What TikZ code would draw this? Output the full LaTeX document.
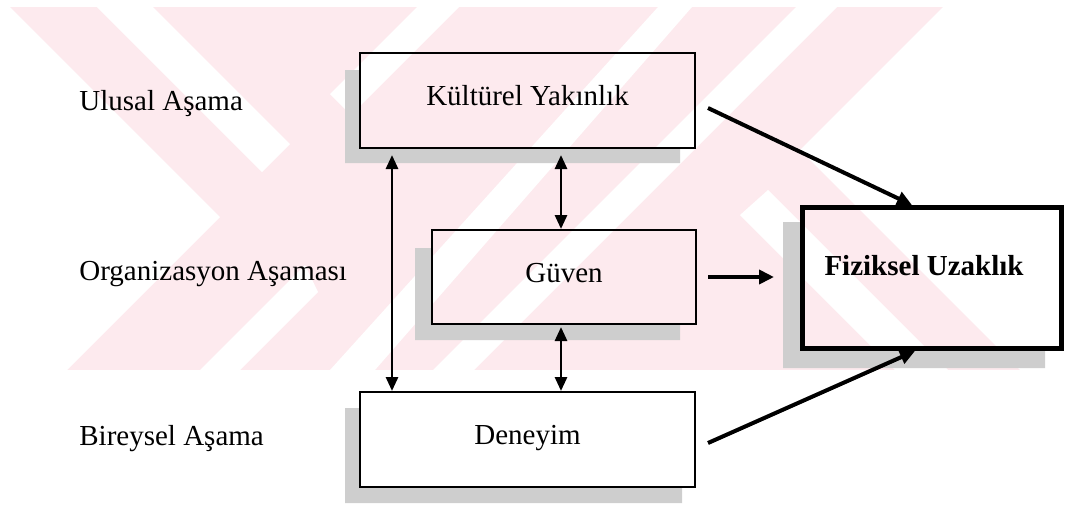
\documentclass[tikz,border=0pt]{standalone}
\usepackage{fontspec}
\setmainfont{Liberation Serif}
\usetikzlibrary{arrows.meta,calc}
\definecolor{wmpink}{RGB}{253,234,238}
\definecolor{stipple}{RGB}{206,206,206}
\begin{document}
\begin{tikzpicture}[x=0.5pt,y=-0.5pt,
  txt/.style={font=\fontsize{14.5}{17}\selectfont},
  box/.style={txt,draw=black,line width=1pt,inner sep=0pt,
    text height=0.7em,text depth=0.2em},
  stage/.style={txt,anchor=base west,inner sep=0pt},
  shade/.style={fill=stipple,draw=none},
  wmgap/.style={fill=white,draw=none},
  dbl/.style={{Triangle[length=7pt,width=6pt]}-{Triangle[length=7pt,width=6pt]},line width=1.4pt},
  link/.style={-{Triangle[length=7.5pt,width=7pt]},line width=2pt}]
\useasboundingbox (0,0) rectangle (1066,505);

% faint chevron watermark behind the chart
\begin{scope}
  \clip (10,7) rectangle (1045,370);
  \fill[wmpink] (10,7) rectangle (1045,370);
  \fill[wmgap] (10,7) -- (220,217) -- (67,370) -- (10,370) -- cycle;
  \fill[wmgap] (97,7) -- (153,7) -- (290,144) -- (262,172) -- cycle;
  \fill[wmgap] (200,370) -- (240,370) -- (318,292) -- (305,265) -- cycle;
  \fill[wmgap] (417,7) -- (459,7) -- (351,115) -- (330,94) -- cycle;
  \fill[wmgap] (330,370) -- (375,370) -- (692,7) -- (658,7) -- cycle;
  \fill[wmgap] (433,370) -- (474,370) -- (837,7) -- (796,7) -- cycle;
  \fill[wmgap] (740,215) -- (768,190) -- (948,370) -- (895,370) -- cycle;
  \fill[wmgap] (943,7) -- (1045,7) -- (1045,370) -- (1020,370) -- (800,150) -- cycle;
\end{scope}

% stippled drop shadows (left and bottom of every box)
\fill[shade] (345,70) -- (360,70) -- (360,148) -- (680,148) -- (680,163) -- (345,163) -- cycle;
\fill[shade] (415,248) -- (432,248) -- (432,324) -- (680,324) -- (680,340) -- (415,340) -- cycle;
\fill[shade] (345,408) -- (360,408) -- (360,487) -- (682,487) -- (682,503) -- (345,503) -- cycle;
\fill[shade] (783,222) -- (801,222) -- (801,349) -- (1045,349) -- (1045,368) -- (783,368) -- cycle;

% stage labels
\node[stage] (ulusal) at (79,110) {Ulusal Aşama};
\node[stage] (orgut) at (79,280) {Organizasyon Aşaması};
\node[stage] (birey) at (79,445) {Bireysel Aşama};

% boxes
\node[box,minimum width=167.5pt,minimum height=47.5pt] (kult) at (527.5,100.5) {Kültürel Yakınlık};
\node[box,minimum width=132pt,minimum height=47pt] (guv) at (564,277) {Güven};
\node[box,minimum width=167.5pt,minimum height=47.5pt] (den) at (527.5,439.5) {Deneyim};
\node[box,line width=2.5pt,minimum width=129.5pt,minimum height=70.5pt] (fiz) at (932,278) {};
\node[txt,inner sep=0pt,text height=0.7em,text depth=0.2em,font=\fontsize{14.5}{17}\selectfont\bfseries]
  (fizlbl) at ($(fiz.center)+(-8,-7.25)$) {Fiziksel Uzaklık};

% two-way links between the stages
\draw[dbl] ([shift={(16.5pt,-3pt)}]kult.south west) -- ([xshift=16.5pt]den.north west);
\draw[dbl] ([xshift=-1.5pt,yshift=-3pt]guv.north |- kult.south) -- ([xshift=-1.5pt]guv.north);
\draw[dbl] ([xshift=-1.5pt,yshift=-1pt]guv.south) -- ([xshift=-1.5pt]guv.south |- den.north);

% effects on physical distance
\draw[link] ([shift={(6pt,-3.75pt)}]kult.east) -- ([xshift=-10pt]fiz.north);
\draw[link] ([xshift=5.5pt]guv.east) -- ([xshift=-13pt]fiz.west |- guv.east);
\draw[link] ([shift={(6pt,-1.75pt)}]den.east) -- ([xshift=-8.5pt]fiz.south);
\end{tikzpicture}
\end{document}
